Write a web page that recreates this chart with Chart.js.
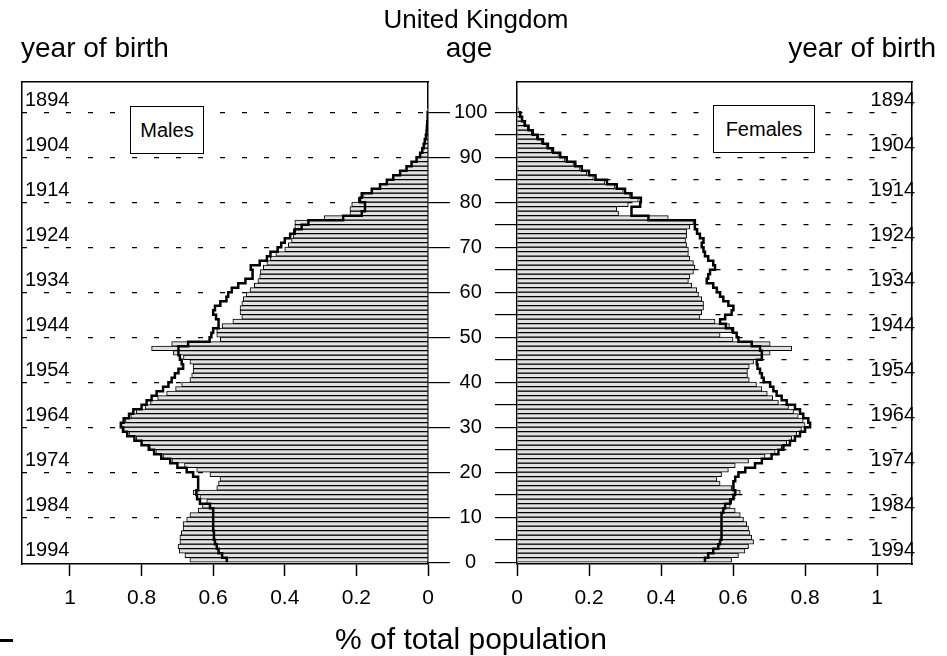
<!DOCTYPE html>
<html>
<head>
<meta charset="utf-8">
<script src="https://cdn.jsdelivr.net/npm/chart.js@4.4.1/dist/chart.umd.min.js"></script>
<style>
  body { margin: 0; background: #fff; width: 947px; height: 656px; position: relative; overflow: hidden;
         font-family: 'Liberation Sans', Arial, Helvetica, sans-serif; color: #000; }
  canvas { position: absolute; top: 0; }
  #males { left: 0; }
  #females { left: 472px; }
  .t { position: absolute; white-space: nowrap; line-height: 30px; }
  .box { position: absolute; border: 1.5px solid #000; background: #fff; font-size: 20px;
         display: flex; align-items: center; justify-content: center; box-sizing: border-box; }
</style>
</head>
<body>
<canvas id="males" width="500" height="656"></canvas>
<canvas id="females" width="475" height="656"></canvas>

<div class="t" style="left:0;width:952px;text-align:center;top:4px;font-size:26px">United Kingdom</div>
<div class="t" style="left:21px;top:33px;font-size:28px">year of birth</div>
<div class="t" style="left:419px;width:100px;text-align:center;top:33px;font-size:28px">age</div>
<div class="t" style="right:11px;top:33px;font-size:28px">year of birth</div>
<div class="t" style="left:0;width:942px;text-align:center;top:624px;font-size:30px">% of total population</div>
<div class="box" style="left:130px;top:106px;width:74px;height:48px">Males</div>
<div class="box" style="left:713px;top:105px;width:102px;height:48px">Females</div>
<div style="position:absolute;left:0;top:639px;width:13px;height:3px;background:#000"></div>

<script>
// ages 0..100, one bar per single year of age
const ages = Array.from({ length: 101 }, (_, i) => i);

// % of total population
const maleBars = [
  0.665, 0.679, 0.695, 0.698, 0.693, 0.693, 0.689, 0.684, 0.684, 0.674,
  0.665, 0.642, 0.630, 0.618, 0.637, 0.656, 0.590, 0.585, 0.581, 0.609,
  0.646, 0.680, 0.715, 0.740, 0.760, 0.777, 0.800, 0.815, 0.835, 0.850,
  0.856, 0.845, 0.830, 0.815, 0.790, 0.775, 0.755, 0.730, 0.705, 0.688,
  0.665, 0.660, 0.656, 0.656, 0.665, 0.683, 0.711, 0.772, 0.716, 0.580,
  0.590, 0.590, 0.575, 0.545, 0.520, 0.525, 0.525, 0.520, 0.516, 0.508,
  0.497, 0.485, 0.475, 0.470, 0.468, 0.460, 0.450, 0.440, 0.425, 0.400,
  0.390, 0.381, 0.376, 0.376, 0.372, 0.372, 0.290, 0.218, 0.218, 0.213,
  0.195, 0.180, 0.157, 0.134, 0.115, 0.097, 0.078, 0.060, 0.046, 0.032,
  0.022, 0.016, 0.012, 0.009, 0.006, 0.004, 0.003, 0.002, 0.001, 0.001, 0.0005
];
const maleLine = [
  0.562, 0.575, 0.585, 0.590, 0.595, 0.598, 0.598, 0.600, 0.600, 0.600,
  0.600, 0.600, 0.609, 0.637, 0.645, 0.647, 0.642, 0.642, 0.642, 0.656,
  0.674, 0.700, 0.720, 0.745, 0.765, 0.780, 0.800, 0.820, 0.840, 0.852,
  0.858, 0.850, 0.835, 0.823, 0.800, 0.786, 0.772, 0.758, 0.740, 0.725,
  0.716, 0.707, 0.697, 0.684, 0.688, 0.693, 0.697, 0.697, 0.670, 0.610,
  0.605, 0.600, 0.585, 0.585, 0.592, 0.600, 0.595, 0.580, 0.563, 0.558,
  0.548, 0.530, 0.510, 0.490, 0.490, 0.495, 0.470, 0.450, 0.440, 0.420,
  0.410, 0.400, 0.385, 0.372, 0.353, 0.334, 0.237, 0.185, 0.176, 0.176,
  0.190, 0.185, 0.157, 0.134, 0.115, 0.097, 0.078, 0.060, 0.046, 0.032,
  0.022, 0.016, 0.012, 0.009, 0.006, 0.004, 0.003, 0.002, 0.001, 0.001, 0.0005
];
const femaleBars = [
  0.596, 0.615, 0.633, 0.643, 0.657, 0.652, 0.647, 0.643, 0.638, 0.629,
  0.620, 0.606, 0.592, 0.596, 0.606, 0.620, 0.596, 0.564, 0.555, 0.568,
  0.587, 0.606, 0.643, 0.689, 0.717, 0.735, 0.749, 0.763, 0.777, 0.790,
  0.800, 0.795, 0.781, 0.768, 0.754, 0.726, 0.710, 0.695, 0.680, 0.665,
  0.645, 0.640, 0.640, 0.645, 0.657, 0.680, 0.703, 0.763, 0.703, 0.600,
  0.564, 0.596, 0.590, 0.550, 0.508, 0.513, 0.518, 0.518, 0.513, 0.504,
  0.499, 0.485, 0.476, 0.480, 0.490, 0.494, 0.490, 0.480, 0.476, 0.476,
  0.471, 0.468, 0.471, 0.471, 0.480, 0.490, 0.420, 0.282, 0.277, 0.309,
  0.337, 0.314, 0.295, 0.272, 0.244, 0.212, 0.194, 0.175, 0.157, 0.133,
  0.115, 0.096, 0.082, 0.069, 0.055, 0.041, 0.030, 0.020, 0.013, 0.008, 0.004
];
const femaleLine = [
  0.522, 0.531, 0.545, 0.559, 0.564, 0.568, 0.568, 0.568, 0.568, 0.568,
  0.568, 0.573, 0.578, 0.592, 0.601, 0.606, 0.601, 0.601, 0.606, 0.615,
  0.634, 0.661, 0.680, 0.707, 0.726, 0.740, 0.758, 0.772, 0.786, 0.800,
  0.814, 0.809, 0.795, 0.786, 0.772, 0.749, 0.735, 0.721, 0.712, 0.703,
  0.685, 0.680, 0.675, 0.668, 0.666, 0.680, 0.680, 0.675, 0.652, 0.615,
  0.610, 0.600, 0.580, 0.564, 0.578, 0.596, 0.601, 0.587, 0.573, 0.564,
  0.555, 0.545, 0.527, 0.531, 0.536, 0.550, 0.545, 0.531, 0.522, 0.518,
  0.513, 0.518, 0.508, 0.500, 0.494, 0.494, 0.365, 0.318, 0.318, 0.342,
  0.344, 0.318, 0.300, 0.277, 0.250, 0.218, 0.200, 0.180, 0.162, 0.138,
  0.120, 0.100, 0.086, 0.072, 0.058, 0.044, 0.032, 0.022, 0.014, 0.009, 0.005
];

// axes
const pctTicks = [0, 0.2, 0.4, 0.6, 0.8, 1];
const pctLabels = ['0', '0.2', '0.4', '0.6', '0.8', '1'];
const ageTicks = [0, 5, 10, 15, 20, 25, 30, 35, 40, 45, 50, 55, 60, 65, 70, 75, 80, 85, 90, 95, 100];
const birthYears = ['1894', '1904', '1914', '1924', '1934', '1944', '1954', '1964', '1974', '1984', '1994'];
const birthYearAges = [102.5, 92.5, 82.5, 72.5, 62.5, 52.5, 42.5, 32.5, 22.5, 12.5, 2.5];

const FONT = "'Liberation Sans', Arial, Helvetica, sans-serif";
Chart.defaults.font.family = FONT;
Chart.defaults.color = '#000';

function makePanel(canvasId, bars, line, isLeft) {
  const ctx = document.getElementById(canvasId);
  const yMin = -0.4, yMax = 106.7;
  return new Chart(ctx, {
    type: 'bar',
    data: {
      datasets: [
        {
          type: 'line',
          data: ages.map((a, i) => ({ x: line[i], y: a })),
          borderColor: '#000',
          borderWidth: 2.5,
          stepped: 'after',
          pointRadius: 0,
          fill: false,
          order: 0
        },
        {
          type: 'bar',
          data: ages.map((a, i) => ({ x: bars[i], y: a + 0.5 })),
          backgroundColor: '#e2e2e2',
          borderColor: '#000',
          borderWidth: 1,
          borderSkipped: 'start',
          barPercentage: 1,
          categoryPercentage: 1,
          order: 1
        }
      ]
    },
    options: {
      indexAxis: 'y',
      responsive: false,
      animation: false,
      devicePixelRatio: 1,
      layout: {
        padding: isLeft ? { left: 22, right: 0, top: 82, bottom: 42 }
                        : { left: 0, right: 35, top: 82, bottom: 42 }
      },
      plugins: { legend: { display: false }, tooltip: { enabled: false } },
      scales: {
        x: {
          type: 'linear',
          reverse: isLeft,
          min: 0,
          max: isLeft ? 1.134 : 1.097,
          afterBuildTicks: s => { s.ticks = pctTicks.map(v => ({ value: v })); },
          afterFit: s => { s.height = 50; },
          ticks: {
            font: { size: 21 },
            padding: 10,
            maxRotation: 0,
            callback: v => pctLabels[pctTicks.indexOf(v)]
          },
          grid: { drawOnChartArea: false, tickLength: 12, tickColor: '#000', tickWidth: 1.5 },
          border: { color: '#000', width: 1.5 }
        },
        top: {
          type: 'linear',
          position: 'top',
          min: 0, max: 1,
          afterFit: s => { s.height = 0; },
          ticks: { display: false },
          grid: { drawOnChartArea: false, drawTicks: false },
          border: { color: '#000', width: 1.5 }
        },
        y: {
          type: 'linear',
          position: isLeft ? 'right' : 'left',
          offset: false,
          min: yMin,
          max: yMax,
          afterBuildTicks: s => { s.ticks = ageTicks.map(v => ({ value: v })); },
          afterFit: s => { s.width = isLeft ? 72 : 45; },
          ticks: {
            display: isLeft,
            font: { size: 20 },
            crossAlign: 'center',
            padding: 4,
            callback: v => (v % 10 === 0 ? String(v) : '')
          },
          grid: {
            offset: false,
            color: c => (c.tick && c.tick.value === 0 ? 'rgba(0,0,0,0)' : '#000'),
            lineWidth: 1.2,
            tickLength: 22,
            tickColor: '#000',
            tickWidth: 1.2
          },
          border: { color: '#000', width: 1.5, dash: [5, 17] }
        },
        yb: {
          type: 'linear',
          position: isLeft ? 'left' : 'right',
          offset: false,
          min: yMin,
          max: yMax,
          afterBuildTicks: s => { s.ticks = birthYearAges.map(v => ({ value: v })); },
          afterFit: s => { s.width = 0; },
          ticks: {
            mirror: true,
            font: { size: 20 },
            padding: 3,
            callback: v => birthYears[birthYearAges.indexOf(v)]
          },
          grid: { offset: false, drawOnChartArea: false, drawTicks: false },
          border: { color: '#000', width: 1.5 }
        }
      }
    }
  });
}

makePanel('males', maleBars, maleLine, true);
makePanel('females', femaleBars, femaleLine, false);
</script>
</body>
</html>
